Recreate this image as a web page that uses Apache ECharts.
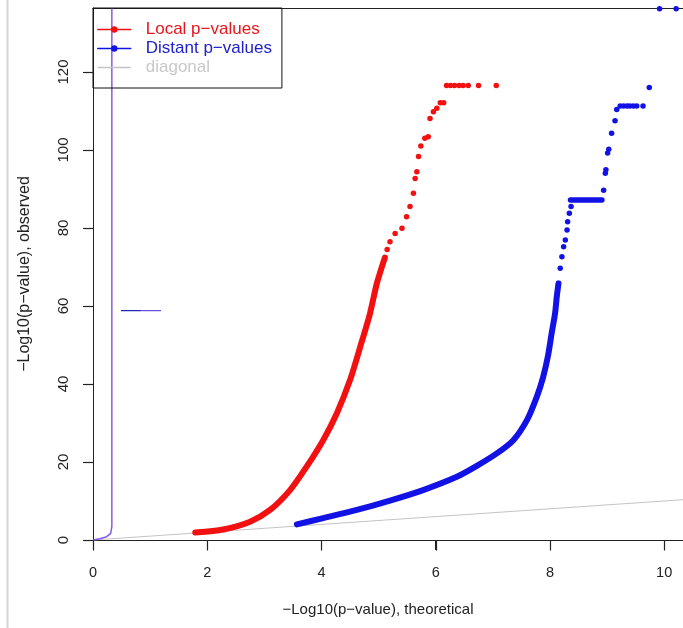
<!DOCTYPE html>
<html>
<head>
<meta charset="utf-8">
<script src="https://cdn.jsdelivr.net/npm/echarts@6/dist/echarts.min.js"></script>
<style>
  html, body { margin: 0; padding: 0; background: #fff; }
  #chart { width: 683px; height: 628px; }
</style>
</head>
<body>
<div id="chart"></div>
<script>
// Axis ranges and tick values
const xTicks = [0, 2, 4, 6, 8, 10];
const yTicks = [0, 20, 40, 60, 80, 100, 120];
const xMax = 10.33;
const yMax = 136.4;

// Local p-values: dense part of the curve (drawn as a thick band) and the sparse tail dots
const localBand = [
  [1.79, 1.9], [2.28, 2.7], [2.75, 4.7], [3.10, 7.7], [3.45, 12.8], [3.74, 18.8],
  [4.03, 25.6], [4.27, 32.5], [4.50, 41.0], [4.68, 49.6], [4.85, 58.1], [4.97, 65.8],
  [5.11, 72.4]
];
const localDots = [
  [5.15, 74.5], [5.20, 76.5], [5.29, 78.6], [5.41, 79.9], [5.49, 82.9], [5.55, 85.5],
  [5.61, 88.9], [5.64, 92.7], [5.67, 94.4], [5.70, 98.3], [5.74, 101.0], [5.81, 103.0],
  [5.87, 103.4], [5.90, 108.1], [5.96, 109.8], [6.02, 110.7], [6.08, 112.1], [6.14, 112.1],
  [6.19, 116.5], [6.26, 116.5], [6.33, 116.5], [6.41, 116.5], [6.48, 116.5], [6.57, 116.5],
  [6.75, 116.5], [7.06, 116.5]
];

// Distant p-values: dense band, the flat run near 87, and the sparse dots
const distantBand = [
  [3.57, 4.0], [4.03, 5.6], [4.62, 7.7], [5.20, 10.1], [5.78, 12.8], [6.37, 16.2],
  [6.72, 19.0], [7.07, 22.2], [7.36, 25.6], [7.60, 30.8], [7.77, 36.7], [7.88, 41.7],
  [7.97, 47.5], [8.03, 53.0], [8.09, 58.1], [8.12, 62.4], [8.15, 65.8]
];
const distantPlateau = [[8.36, 87.2], [8.91, 87.2]];
const distantDots = [
  [8.18, 69.7], [8.21, 72.6], [8.24, 75.2], [8.27, 76.9], [8.30, 79.5], [8.31, 81.6],
  [8.34, 83.8], [8.37, 85.5], [8.94, 89.7], [8.97, 94.0], [8.98, 94.9], [9.01, 99.2],
  [9.03, 100.2], [9.08, 104.3], [9.14, 107.5], [9.17, 110.4], [9.23, 111.3], [9.29, 111.3],
  [9.35, 111.3], [9.40, 111.3], [9.46, 111.3], [9.52, 111.3], [9.63, 111.3], [9.74, 116.0],
  [9.92, 136.2], [10.21, 136.2]
];

// Reference diagonal y = x
const diagonal = [[0, 0], [xMax, xMax]];

// Near-zero trace climbing along the left edge, and the short horizontal stub at ~59
const verticalTrace = [[0, 0], [0.12, 0.3], [0.24, 0.85], [0.31, 1.7], [0.33, 3.4], [0.33, yMax]];
const stubLeft = [[0.49, 58.8], [0.85, 58.8]];
const stubRight = [[0.85, 58.8], [1.19, 58.8]];

const FONT = '"Liberation Sans", Arial, Helvetica, sans-serif';
const RED = '#f21010';
const BLUE = '#1212e6';
const GRAY = '#c4c4c4';
const AXIS = '#222222';
const TICK_LEN = 10;

// Outward tick marks, positioned through the cartesian coordinate system
function tickSeries(points, dim) {
  return {
    type: 'custom', silent: true, clip: false, z: 10,
    encode: { x: 0, y: 1 },
    data: points,
    renderItem: (params, api) => {
      const p = api.coord([api.value(0), api.value(1)]);
      const x = Math.round(p[0]) + 0.5;
      const y = Math.round(p[1]) + 0.5;
      const shape = dim === 'x'
        ? { x1: x, y1: y, x2: x, y2: y + TICK_LEN }
        : { x1: x - TICK_LEN, y1: y, x2: x, y2: y };
      return { type: 'line', shape: shape, style: { stroke: AXIS, lineWidth: 1.2, fill: null } };
    }
  };
}

const chart = echarts.init(document.getElementById('chart'), null, { renderer: 'canvas' });

chart.setOption({
  animation: false,
  backgroundColor: '#fff',
  textStyle: { fontFamily: FONT },
  grid: { left: 93, top: 8, right: 0, bottom: 88 },
  xAxis: [
    {
      type: 'value', min: 0, max: xMax, position: 'bottom',
      name: '\u2212Log10(p\u2212value), theoretical',
      nameLocation: 'middle', nameGap: 62,
      nameTextStyle: { fontSize: 15, color: AXIS, fontFamily: FONT, padding: [0, 20, 0, 0] },
      axisLine: { show: true, onZero: false, lineStyle: { color: AXIS, width: 1 } },
      axisTick: { show: true, inside: false, length: TICK_LEN, customValues: xTicks, lineStyle: { color: AXIS, width: 1 } },
      axisLabel: { customValues: xTicks, fontSize: 14.5, color: AXIS, margin: 25, fontFamily: FONT },
      splitLine: { show: false }
    },
    {
      type: 'value', min: 0, max: xMax, position: 'top',
      axisLine: { show: true, onZero: false, lineStyle: { color: AXIS, width: 1 } },
      axisTick: { show: false }, axisLabel: { show: false }, splitLine: { show: false }
    }
  ],
  yAxis: {
    type: 'value', min: 0, max: yMax,
    name: '\u2212Log10(p\u2212value), observed',
    nameLocation: 'middle', nameGap: 60, nameRotate: 90,
    nameTextStyle: { fontSize: 16, color: AXIS, fontFamily: FONT },
    axisLine: { show: true, onZero: false, lineStyle: { color: AXIS, width: 1 } },
    axisTick: { show: true, inside: false, length: TICK_LEN, customValues: yTicks, lineStyle: { color: AXIS, width: 1 } },
    axisLabel: { customValues: yTicks, rotate: 90, fontSize: 15, color: AXIS, margin: 22, fontFamily: FONT },
    splitLine: { show: false }
  },
  legend: {
    orient: 'vertical', left: 93, top: 8,
    padding: [13, 10, 12, 4], itemGap: 2, itemWidth: 33, itemHeight: 8,
    borderColor: '#111', borderWidth: 1, borderRadius: 0,
    selectedMode: false,
    textStyle: { fontSize: 17, fontFamily: FONT, padding: [0, 0, 0, 10] },
    lineStyle: { width: 1.5 },
    data: [
      { name: 'Local p\u2212values', textStyle: { color: '#e8141c' } },
      { name: 'Distant p\u2212values', textStyle: { color: '#2020cc' } },
      { name: 'diagonal', textStyle: { color: '#c8c8c8' }, itemStyle: { color: 'rgba(0,0,0,0)', borderWidth: 0 } }
    ]
  },
  graphic: [
    {
      type: 'line', silent: true,
      shape: { x1: 7.5, y1: 0, x2: 7.5, y2: 628 },
      style: { stroke: '#d6d6d6', lineWidth: 2 }
    }
  ],
  series: [
    tickSeries(xTicks.map(v => [v, 0]), 'x'),
    tickSeries(yTicks.map(v => [0, v]), 'y'),
    {
      name: 'diagonal', type: 'line', data: diagonal, symbol: 'none',
      lineStyle: { color: GRAY, width: 1 }, itemStyle: { color: GRAY }, z: 1
    },
    {
      name: 'trace', type: 'line', data: verticalTrace, symbol: 'none',
      lineStyle: { color: '#8758ee', width: 1.5 }, z: 2
    },
    {
      name: 'stubA', type: 'line', data: stubLeft, symbol: 'none',
      lineStyle: { color: '#2626b8', width: 1.3 }, z: 2
    },
    {
      name: 'stubB', type: 'line', data: stubRight, symbol: 'none',
      lineStyle: { color: '#6a4fd8', width: 1.3 }, z: 2
    },
    {
      name: 'Local p\u2212values', type: 'line', data: localBand,
      symbol: 'circle', showSymbol: false, smooth: 0.25,
      lineStyle: { color: RED, width: 6, cap: 'round', join: 'round' },
      itemStyle: { color: RED }, z: 3
    },
    {
      name: 'Local p\u2212values', type: 'scatter', data: localDots,
      symbolSize: 5.5, itemStyle: { color: RED, opacity: 1 }, z: 3
    },
    {
      name: 'Distant p\u2212values', type: 'line', data: distantBand,
      symbol: 'circle', showSymbol: false, smooth: 0.25,
      lineStyle: { color: BLUE, width: 6, cap: 'round', join: 'round' },
      itemStyle: { color: BLUE }, z: 3
    },
    {
      name: 'Distant p\u2212values', type: 'line', data: distantPlateau,
      symbol: 'none',
      lineStyle: { color: BLUE, width: 5.5, cap: 'round' },
      itemStyle: { color: BLUE }, z: 3
    },
    {
      name: 'Distant p\u2212values', type: 'scatter', data: distantDots,
      symbolSize: 5.5, itemStyle: { color: BLUE, opacity: 1 }, z: 3
    }
  ]
});
</script>
</body>
</html>
